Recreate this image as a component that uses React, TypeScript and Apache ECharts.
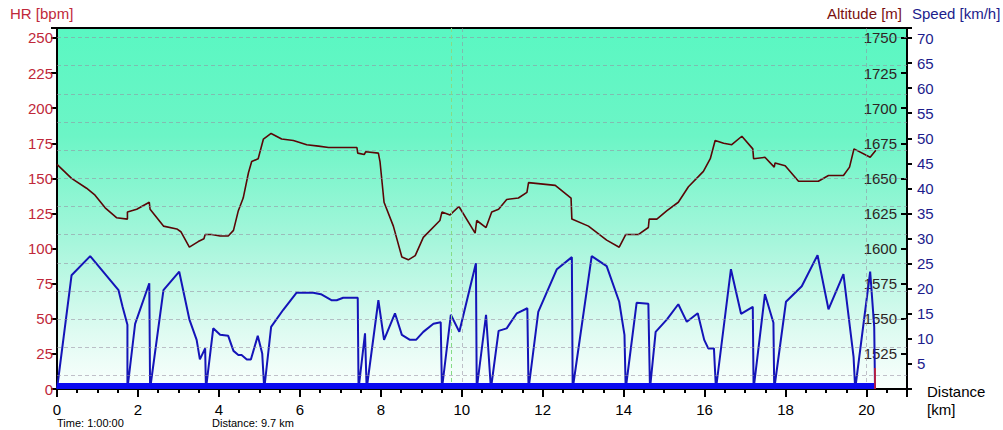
import React, { useEffect, useRef } from "react";
import * as echarts from "echarts";

// [distance km, altitude m]
const altitudeTrack: number[][] = [
  [0, 1660], [0.36, 1650], [0.73, 1643], [0.94, 1638], [1.19, 1629], [1.47, 1622],
  [1.74, 1621], [1.74, 1626], [1.97, 1628], [2.28, 1633], [2.3, 1628], [2.63, 1616],
  [2.96, 1614], [3.06, 1612], [3.27, 1601], [3.49, 1605], [3.63, 1607], [3.66, 1610],
  [3.82, 1610], [4.03, 1609], [4.23, 1609], [4.36, 1613], [4.48, 1627], [4.6, 1636],
  [4.73, 1654], [4.81, 1662], [4.97, 1664], [5.1, 1678], [5.29, 1682], [5.55, 1678],
  [5.84, 1677], [6.17, 1674], [6.46, 1673], [6.71, 1672], [7.41, 1672], [7.43, 1668],
  [7.59, 1667], [7.63, 1669], [7.94, 1668], [7.98, 1662], [8.08, 1633], [8.31, 1616],
  [8.52, 1594], [8.68, 1592], [8.85, 1595], [9.05, 1608], [9.46, 1620], [9.51, 1626],
  [9.71, 1624], [9.93, 1630], [10.33, 1611], [10.37, 1620], [10.6, 1615], [10.74, 1626],
  [10.91, 1628], [11.11, 1635], [11.4, 1636], [11.61, 1640], [11.65, 1647], [12.31, 1645],
  [12.7, 1636], [12.72, 1621], [13.13, 1616], [13.58, 1606], [13.89, 1601], [14.05, 1610],
  [14.36, 1610], [14.61, 1615], [14.63, 1621], [14.82, 1621], [15.07, 1627], [15.35, 1633],
  [15.6, 1644], [15.97, 1655], [16.14, 1664], [16.26, 1677], [16.47, 1675], [16.67, 1674],
  [16.92, 1680], [17.19, 1671], [17.21, 1664], [17.49, 1665], [17.72, 1658], [17.74, 1661],
  [17.99, 1659], [18.32, 1648], [18.81, 1648], [19.06, 1652], [19.43, 1652], [19.58, 1658],
  [19.69, 1671], [20.09, 1665], [20.23, 1670],
];

// [distance km, speed km/h]
const speedTrack: number[][] = [
  [0, 0], [0.36, 22.7], [0.82, 26.5], [1.52, 19.7], [1.62, 16.4], [1.74, 12.8], [1.74, 0],
  [1.93, 13], [2.28, 21.1], [2.3, 0], [2.63, 19.7], [3.02, 23.4], [3.27, 13.9], [3.45, 9.8],
  [3.53, 5.9], [3.66, 8.1], [3.68, 0], [3.86, 12.1], [4.03, 10.8], [4.23, 10.6], [4.36, 7.6],
  [4.48, 6.8], [4.56, 6.8], [4.69, 5.9], [4.79, 5.9], [4.96, 10.6], [5.07, 7.1], [5.12, 0],
  [5.29, 12.4], [5.59, 15.8], [5.92, 19.2], [6.33, 19.2], [6.52, 18.9], [6.79, 17.7],
  [6.91, 17.7], [7.07, 18.2], [7.43, 18.2], [7.45, 0], [7.61, 11.1], [7.65, 0], [7.94, 17.7],
  [8.08, 9.8], [8.35, 15.1], [8.52, 10.8], [8.72, 9.8], [8.87, 9.8], [9.05, 11.4], [9.3, 13],
  [9.48, 13.3], [9.51, 0], [9.73, 14.8], [9.94, 11.4], [10.35, 25.1], [10.37, 0], [10.6, 14.8],
  [10.72, 0], [10.91, 11.6], [11.11, 12.1], [11.36, 15.1], [11.62, 16.1], [11.65, 0],
  [11.89, 15.4], [12.35, 23.9], [12.72, 26.3], [12.74, 0], [13.21, 26.5], [13.58, 24.5],
  [13.89, 17.4], [14.02, 10.8], [14.05, 0], [14.32, 17.2], [14.61, 17], [14.65, 0],
  [14.79, 11.4], [15.07, 13.9], [15.35, 16.9], [15.56, 13.4], [15.83, 15.1], [15.99, 9.8],
  [16.09, 8.1], [16.23, 8.1], [16.28, 0], [16.65, 23.9], [16.9, 15], [17.19, 16.4], [17.21, 0],
  [17.49, 18.9], [17.7, 13.2], [17.72, 0], [18.01, 17.4], [18.4, 20.5], [18.79, 26.7],
  [19.06, 15.9], [19.43, 22.9], [19.68, 6.4], [19.72, 0], [20.09, 23.4], [20.19, 12.4], [20.21, 0],
];

// heart rate track (no HR recorded: flat at the bottom)
const heartRateTrack: number[][] = [[0, 2.1], [20.21, 2.1]];
const endMarker: number[][] = [[20.21, 0], [20.21, 15]];

const gridLevels = [9.5, 29.6, 49.6, 69.7, 89.8, 109.9, 129.9, 150.0, 170.1, 190.1, 210.2, 230.3, 250.3];
const verticalGrid = [10, 20];
const cursorDistance = 9.73;

const FONT = "Liberation Sans, Arial, sans-serif";

export default function App() {
  const ref = useRef<HTMLDivElement>(null);
  useEffect(() => {
    if (!ref.current) return;
    const chart = echarts.init(ref.current, undefined, { renderer: "svg" });
    const gridDash = { color: "rgba(150,140,160,0.55)", type: [4, 3] as any, width: 1 };
    chart.setOption({
      animation: false,
      grid: {
        left: 57, top: 28, right: 96, bottom: 41,
        show: true,
        borderColor: "#000", borderWidth: 2,
        backgroundColor: new echarts.graphic.LinearGradient(0, 0, 0, 1, [
          { offset: 0, color: "#5af7c2" },
          { offset: 0.3, color: "#6cf5c6" },
          { offset: 0.6, color: "#a8f6dc" },
          { offset: 0.85, color: "#e0fbf2" },
          { offset: 1, color: "#fafffd" },
        ]),
      },
      xAxis: {
        type: "value", min: 0, max: 21, interval: 2,
        axisLine: { show: true, lineStyle: { color: "#000", width: 2 } },
        axisTick: { show: true, length: 8, lineStyle: { color: "#000", width: 2 } },
        minorTick: { show: true, splitNumber: 4, length: 4, lineStyle: { color: "#000", width: 2 } },
        splitLine: { show: false },
        axisLabel: {
          margin: 13, color: "#000", fontSize: 15, fontFamily: FONT,
          formatter: (v: number) => (v > 20 ? "" : String(v)),
        },
      },
      yAxis: [
        {
          type: "value", position: "left", min: 0, max: 257.1, interval: 25,
          axisLine: { show: true, lineStyle: { color: "#000", width: 2 } },
          axisTick: { show: true, length: 6, lineStyle: { color: "#000", width: 2 } },
          splitLine: { show: false },
          axisLabel: {
            margin: 4, color: "#c0283a", fontSize: 15, fontFamily: FONT,
            formatter: (v: number) => (v > 250 ? "" : String(v)),
          },
        },
        {
          type: "value", position: "right", min: 1500, max: 1757.1, interval: 25,
          axisLine: { show: true, lineStyle: { color: "#000", width: 2 } },
          axisTick: { show: true, inside: true, length: 6, lineStyle: { color: "#000", width: 2 } },
          splitLine: { show: false },
          axisLabel: {
            inside: true, margin: 10, color: "#2e2424", fontSize: 15, fontFamily: FONT,
            formatter: (v: number) => (v <= 1500 || v > 1750 ? "" : String(v)),
          },
        },
        {
          type: "value", position: "right", min: 0, max: 72, interval: 5,
          axisLine: { show: false },
          axisTick: { show: true, length: 5, lineStyle: { color: "#000", width: 2 } },
          splitLine: { show: false },
          axisLabel: {
            margin: 10, color: "#1c1c8c", fontSize: 15, fontFamily: FONT,
            formatter: (v: number) => (v <= 0 || v > 70 ? "" : String(v)),
          },
        },
      ],
      graphic: [
        { type: "text", left: 10, top: 6, style: { text: "HR [bpm]", fill: "#c0283a", font: `15px ${FONT}` } },
        { type: "text", left: 827, top: 6, style: { text: "Altitude [m]", fill: "#7a1010", font: `15px ${FONT}` } },
        { type: "text", left: 912, top: 6, style: { text: "Speed [km/h]", fill: "#1c1c8c", font: `15px ${FONT}` } },
        { type: "text", left: 927, top: 384, style: { text: "Distance", fill: "#000", font: `15px ${FONT}` } },
        { type: "text", left: 927, top: 402, style: { text: "[km]", fill: "#000", font: `15px ${FONT}` } },
        { type: "text", left: 57, top: 417, style: { text: "Time: 1:00:00", fill: "#000", font: `11px ${FONT}` } },
        { type: "text", left: 212, top: 417, style: { text: "Distance: 9.7 km", fill: "#000", font: `11px ${FONT}` } },
      ],
      series: [
        {
          name: "grid", type: "line", yAxisIndex: 0, data: [], silent: true,
          markLine: {
            silent: true, symbol: ["none", "none"], label: { show: false },
            data: [
              ...gridLevels.map((v) => ({ yAxis: v, lineStyle: gridDash })),
              ...verticalGrid.map((v) => ({ xAxis: v, lineStyle: gridDash })),
              { xAxis: cursorDistance, lineStyle: { color: "#86dc86", type: [4, 3], width: 1 } },
            ],
          },
        },
        {
          name: "Altitude", type: "line", yAxisIndex: 1, data: altitudeTrack,
          showSymbol: false, lineStyle: { color: "#5a0606", width: 1.6 }, z: 3,
        },
        {
          name: "Speed", type: "line", yAxisIndex: 2, data: speedTrack,
          showSymbol: false, lineStyle: { color: "#1414b8", width: 2 }, z: 4,
        },
        {
          name: "HR", type: "line", yAxisIndex: 0, data: heartRateTrack,
          showSymbol: false, lineStyle: { color: "#0a0af0", width: 6, cap: "butt" }, z: 5,
        },
        {
          name: "End", type: "line", yAxisIndex: 0, data: endMarker,
          showSymbol: false, lineStyle: { color: "#e02020", width: 1.5 }, z: 6,
        },
      ],
    });
    return () => chart.dispose();
  }, []);
  return (
    <div
      ref={ref}
      style={{ position: "absolute", left: 0, top: 0, width: 1003, height: 430, background: "#fff" }}
    />
  );
}
